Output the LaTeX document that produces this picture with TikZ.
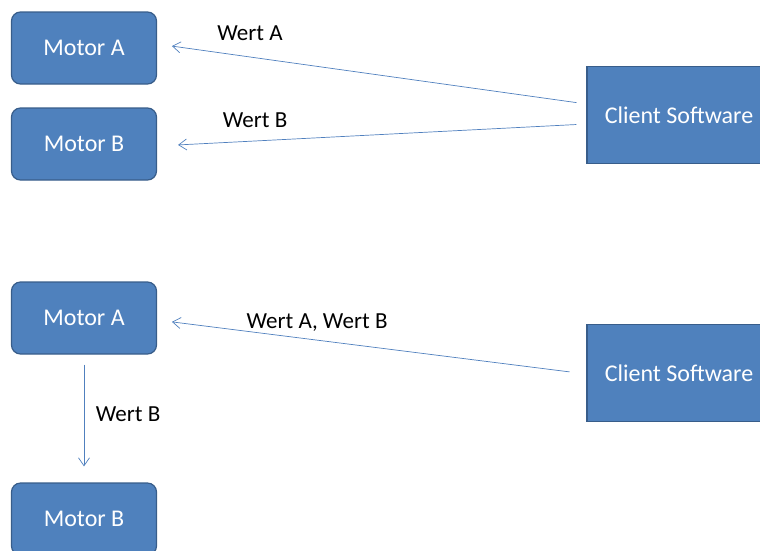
\documentclass[tikz,border=0pt]{standalone}
\usepackage{fontspec}
\setmainfont{Carlito}
\usepackage{tikz}
\usetikzlibrary{positioning}
\usetikzlibrary{arrows.meta}
\definecolor{boxfill}{RGB}{79,129,189}
\definecolor{boxline}{RGB}{56,93,138}
\definecolor{linkblue}{RGB}{80,128,190}
\tikzset{
    every picture/.append style={
        >={Straight Barb[length=8pt,width=11pt]}
    }
}
\tikzset{
    motor/.style={shape=rectangle,rounded corners=9pt,draw=boxline,line width=1.2pt,fill=boxfill,
        text=white,minimum width=145pt,minimum height=72pt,font=\fontsize{24}{28}\selectfont},
    client/.style={shape=rectangle,draw=boxline,line width=1.2pt,fill=boxfill,
        text=white,minimum width=184pt,minimum height=97pt,font=\fontsize{24}{28}\selectfont},
    link/.style={->,draw=linkblue,line width=0.7pt},
    wert/.style={text=black,font=\fontsize{23}{27}\selectfont,inner sep=0pt},
}
\begin{document}
\begin{tikzpicture}[x=1pt,y=-1pt]
		\useasboundingbox (0,0) rectangle (760,550);
		% oben: jeder Motor bekommt seinen Wert
		\node[motor] (motA1) at (84,48) {Motor A};
		\node[motor] (motB1) at (84,144) {Motor B};
		\node[client] (cli1) at (679,115) {Client Software};
		
		\draw [link, shorten <=10pt, shorten >=15pt] ([yshift=11pt]cli1.west) -- ([yshift=4pt]motA1.east);
		\draw [link, shorten <=10pt, shorten >=21pt] ([yshift=-9pt]cli1.west) -- ([yshift=-2pt]motB1.east);
		\node[wert] (wA1) at (250,33) {Wert A};
		\node[wert] (wB1) at (255,120) {Wert B};
		
		% unten: Motor A reicht Wert B weiter
		\node[motor] (motA2) at (84,318) {Motor A};
		\node[motor] (motB2) at (84,519) {Motor B};
		\node[client] (cli2) at (679,373) {Client Software};
		
		\draw [link, shorten <=17pt, shorten >=15pt] ([yshift=-1pt]cli2.west) -- ([yshift=-2pt]motA2.east);
		\draw [link, shorten <=10pt, shorten >=16pt] (motA2.south) -- (motB2.north);
		\node[wert] (wAB) at (317,323) {Wert A, Wert B};
		\node[wert] (wB2) at (128,414) {Wert B};
		\end{tikzpicture}
\end{document}
